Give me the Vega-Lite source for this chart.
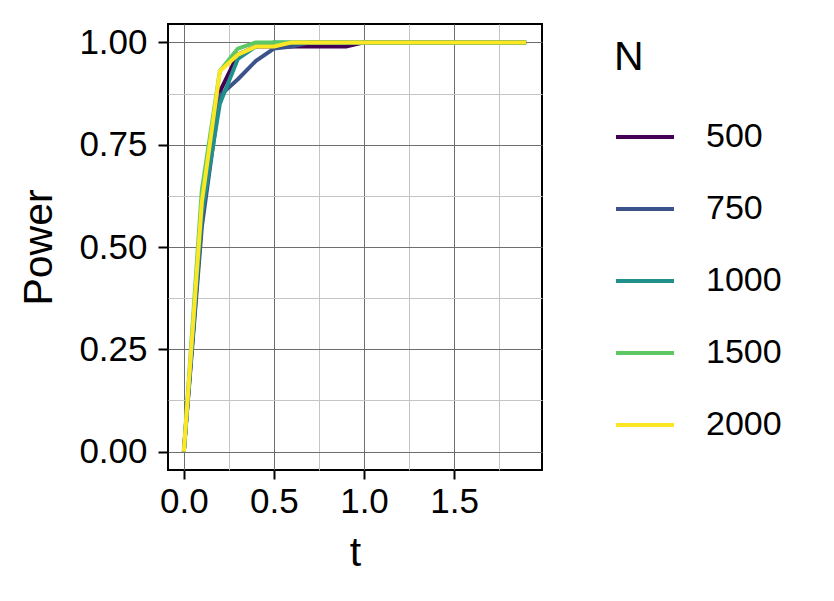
{
  "$schema": "https://vega.github.io/schema/vega-lite/v6.json",
  "autosize": {"type": "none"},
  "padding": {"left": 168, "top": 24, "right": 292, "bottom": 131},
  "width": 374,
  "height": 446,
  "background": "white",
  "config": {
    "font": "Liberation Sans",
    "view": {"stroke": "black", "strokeWidth": 2}
  },
  "data": {
    "values": [
      {"t": 0.0, "N": "500", "p": 0.0}, {"t": 0.1, "N": "500", "p": 0.57}, {"t": 0.2, "N": "500", "p": 0.88}, {"t": 0.3, "N": "500", "p": 0.97}, {"t": 0.4, "N": "500", "p": 0.99},
      {"t": 0.5, "N": "500", "p": 0.99}, {"t": 0.6, "N": "500", "p": 0.99}, {"t": 0.7, "N": "500", "p": 0.99}, {"t": 0.8, "N": "500", "p": 0.99}, {"t": 0.9, "N": "500", "p": 0.99},
      {"t": 1.0, "N": "500", "p": 1.0}, {"t": 1.1, "N": "500", "p": 1.0}, {"t": 1.2, "N": "500", "p": 1.0}, {"t": 1.3, "N": "500", "p": 1.0}, {"t": 1.4, "N": "500", "p": 1.0},
      {"t": 1.5, "N": "500", "p": 1.0}, {"t": 1.6, "N": "500", "p": 1.0}, {"t": 1.7, "N": "500", "p": 1.0}, {"t": 1.8, "N": "500", "p": 1.0}, {"t": 1.9, "N": "500", "p": 1.0},
      {"t": 0.0, "N": "750", "p": 0.0}, {"t": 0.1, "N": "750", "p": 0.55}, {"t": 0.2, "N": "750", "p": 0.87}, {"t": 0.3, "N": "750", "p": 0.91}, {"t": 0.4, "N": "750", "p": 0.955},
      {"t": 0.5, "N": "750", "p": 0.985}, {"t": 0.6, "N": "750", "p": 0.99}, {"t": 0.7, "N": "750", "p": 1.0}, {"t": 0.8, "N": "750", "p": 1.0}, {"t": 0.9, "N": "750", "p": 1.0},
      {"t": 1.0, "N": "750", "p": 1.0}, {"t": 1.1, "N": "750", "p": 1.0}, {"t": 1.2, "N": "750", "p": 1.0}, {"t": 1.3, "N": "750", "p": 1.0}, {"t": 1.4, "N": "750", "p": 1.0},
      {"t": 1.5, "N": "750", "p": 1.0}, {"t": 1.6, "N": "750", "p": 1.0}, {"t": 1.7, "N": "750", "p": 1.0}, {"t": 1.8, "N": "750", "p": 1.0}, {"t": 1.9, "N": "750", "p": 1.0},
      {"t": 0.0, "N": "1000", "p": 0.0}, {"t": 0.1, "N": "1000", "p": 0.58}, {"t": 0.2, "N": "1000", "p": 0.85}, {"t": 0.3, "N": "1000", "p": 0.96}, {"t": 0.4, "N": "1000", "p": 0.99},
      {"t": 0.5, "N": "1000", "p": 1.0}, {"t": 0.6, "N": "1000", "p": 1.0}, {"t": 0.7, "N": "1000", "p": 1.0}, {"t": 0.8, "N": "1000", "p": 1.0}, {"t": 0.9, "N": "1000", "p": 1.0},
      {"t": 1.0, "N": "1000", "p": 1.0}, {"t": 1.1, "N": "1000", "p": 1.0}, {"t": 1.2, "N": "1000", "p": 1.0}, {"t": 1.3, "N": "1000", "p": 1.0}, {"t": 1.4, "N": "1000", "p": 1.0},
      {"t": 1.5, "N": "1000", "p": 1.0}, {"t": 1.6, "N": "1000", "p": 1.0}, {"t": 1.7, "N": "1000", "p": 1.0}, {"t": 1.8, "N": "1000", "p": 1.0}, {"t": 1.9, "N": "1000", "p": 1.0},
      {"t": 0.0, "N": "1500", "p": 0.0}, {"t": 0.1, "N": "1500", "p": 0.64}, {"t": 0.2, "N": "1500", "p": 0.93}, {"t": 0.3, "N": "1500", "p": 0.985}, {"t": 0.4, "N": "1500", "p": 1.0},
      {"t": 0.5, "N": "1500", "p": 1.0}, {"t": 0.6, "N": "1500", "p": 1.0}, {"t": 0.7, "N": "1500", "p": 1.0}, {"t": 0.8, "N": "1500", "p": 1.0}, {"t": 0.9, "N": "1500", "p": 1.0},
      {"t": 1.0, "N": "1500", "p": 1.0}, {"t": 1.1, "N": "1500", "p": 1.0}, {"t": 1.2, "N": "1500", "p": 1.0}, {"t": 1.3, "N": "1500", "p": 1.0}, {"t": 1.4, "N": "1500", "p": 1.0},
      {"t": 1.5, "N": "1500", "p": 1.0}, {"t": 1.6, "N": "1500", "p": 1.0}, {"t": 1.7, "N": "1500", "p": 1.0}, {"t": 1.8, "N": "1500", "p": 1.0}, {"t": 1.9, "N": "1500", "p": 1.0},
      {"t": 0.0, "N": "2000", "p": 0.0}, {"t": 0.1, "N": "2000", "p": 0.61}, {"t": 0.2, "N": "2000", "p": 0.93}, {"t": 0.3, "N": "2000", "p": 0.97}, {"t": 0.4, "N": "2000", "p": 0.99},
      {"t": 0.5, "N": "2000", "p": 0.99}, {"t": 0.6, "N": "2000", "p": 1.0}, {"t": 0.7, "N": "2000", "p": 1.0}, {"t": 0.8, "N": "2000", "p": 1.0}, {"t": 0.9, "N": "2000", "p": 1.0},
      {"t": 1.0, "N": "2000", "p": 1.0}, {"t": 1.1, "N": "2000", "p": 1.0}, {"t": 1.2, "N": "2000", "p": 1.0}, {"t": 1.3, "N": "2000", "p": 1.0}, {"t": 1.4, "N": "2000", "p": 1.0},
      {"t": 1.5, "N": "2000", "p": 1.0}, {"t": 1.6, "N": "2000", "p": 1.0}, {"t": 1.7, "N": "2000", "p": 1.0}, {"t": 1.8, "N": "2000", "p": 1.0}, {"t": 1.9, "N": "2000", "p": 1.0}
    ]
  },
  "mark": {"type": "line", "strokeWidth": 4, "strokeJoin": "round", "clip": true},
  "encoding": {
    "x": {
      "field": "t", "type": "quantitative",
      "scale": {"domain": [-0.088, 1.988], "nice": false, "zero": false},
      "axis": {
        "title": "t",
        "values": [0, 0.25, 0.5, 0.75, 1, 1.25, 1.5, 1.75],
        "labelExpr": "datum.value % 0.5 == 0 ? format(datum.value, '.1f') : ''",
        "domain": false,
        "grid": true,
        "gridColor": {"condition": {"test": "datum.value % 0.5 == 0", "value": "#6e6e6e"}, "value": "#c4c4c4"},
        "gridWidth": 1,
        "tickColor": "black",
        "tickOpacity": {"condition": {"test": "datum.value % 0.5 == 0", "value": 1}, "value": 0},
        "tickWidth": 2,
        "tickSize": 9,
        "labelFontSize": 35,
        "labelColor": "black",
        "labelPadding": 5,
        "labelFlush": false,
        "titleFontSize": 41,
        "titleFontWeight": "normal",
        "titleColor": "black",
        "titlePadding": 14
      }
    },
    "y": {
      "field": "p", "type": "quantitative",
      "scale": {"domain": [-0.045, 1.045], "nice": false, "zero": false},
      "axis": {
        "title": "Power",
        "values": [0, 0.125, 0.25, 0.375, 0.5, 0.625, 0.75, 0.875, 1],
        "labelExpr": "datum.value % 0.25 == 0 ? format(datum.value, '.2f') : ''",
        "domain": false,
        "grid": true,
        "gridColor": {"condition": {"test": "datum.value % 0.25 == 0", "value": "#6e6e6e"}, "value": "#c4c4c4"},
        "gridWidth": 1,
        "tickColor": "black",
        "tickOpacity": {"condition": {"test": "datum.value % 0.25 == 0", "value": 1}, "value": 0},
        "tickWidth": 2,
        "tickSize": 10,
        "labelFontSize": 35,
        "labelColor": "black",
        "labelPadding": 11,
        "labelFlush": false,
        "titleFontSize": 41,
        "titleFontWeight": "normal",
        "titleColor": "black",
        "titlePadding": 18
      }
    },
    "color": {
      "field": "N", "type": "nominal",
      "sort": ["500", "750", "1000", "1500", "2000"],
      "scale": {
        "domain": ["500", "750", "1000", "1500", "2000"],
        "range": ["#440154", "#3B528B", "#21908C", "#5DC863", "#FDE725"]
      },
      "legend": {
        "title": "N",
        "orient": "none",
        "legendX": 446,
        "legendY": 14,
        "titleFontSize": 41,
        "titleFontWeight": "normal",
        "titleColor": "black",
        "titlePadding": 27,
        "labelFontSize": 34,
        "labelColor": "black",
        "labelOffset": 30,
        "symbolType": "stroke",
        "symbolSize": 3364,
        "symbolStrokeWidth": 4,
        "rowPadding": 24
      }
    }
  }
}
